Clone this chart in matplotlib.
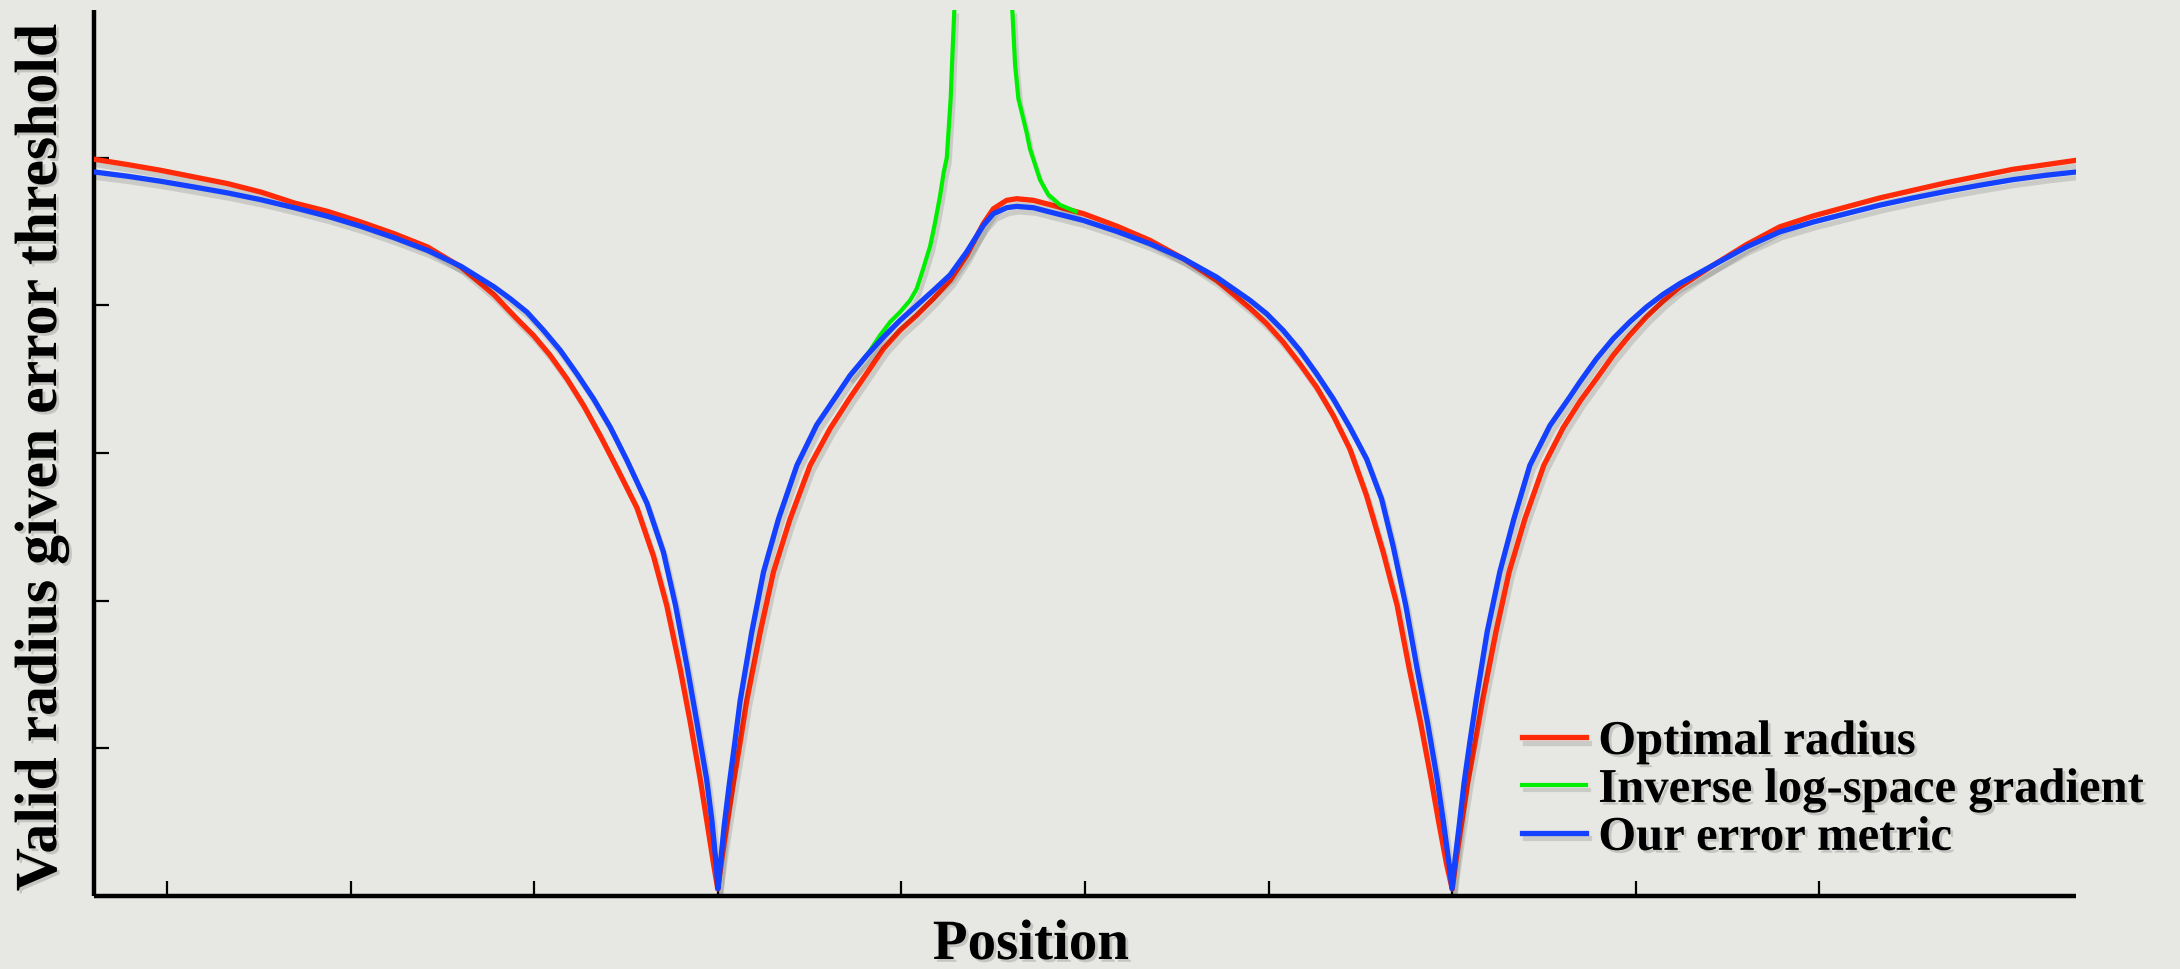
import numpy as np
import matplotlib
matplotlib.use("Agg")
import matplotlib.pyplot as plt
import matplotlib.patheffects as pe

# values (x and y in tick units)
red_x = [-0.398, -0.216, -0.035, 0.147, 0.329, 0.510, 0.692, 0.873, 1.055, 1.236, 1.418, 1.600,
         1.781, 1.904, 1.995, 2.086, 2.177, 2.268, 2.358, 2.449, 2.558, 2.649, 2.721, 2.794,
         2.849, 2.903, 2.939, 2.976, 2.999, 3.021, 3.048, 3.085, 3.121, 3.157, 3.230, 3.302,
         3.393, 3.502, 3.611, 3.720, 3.811, 3.902, 3.992, 4.083, 4.174, 4.265, 4.355, 4.446,
         4.501, 4.573, 4.628, 4.719, 4.809, 4.991, 5.172, 5.354, 5.536, 5.717, 5.899, 5.990,
         6.080, 6.171, 6.262, 6.353, 6.443, 6.534, 6.625, 6.701, 6.767, 6.828, 6.886, 6.926,
         6.970, 7.001, 7.023, 7.050, 7.086, 7.126, 7.166, 7.239, 7.311, 7.397, 7.500, 7.605,
         7.700, 7.787, 7.878, 7.968, 8.059, 8.150, 8.241, 8.422, 8.604, 8.785, 8.967, 9.148,
         9.330, 9.512, 9.693, 9.875, 10.056, 10.238, 10.400]
red_y = [4.989, 4.953, 4.914, 4.869, 4.824, 4.767, 4.693, 4.636, 4.564, 4.485, 4.395, 4.259,
         4.070, 3.909, 3.796, 3.661, 3.503, 3.322, 3.119, 2.900, 2.630, 2.300, 1.967, 1.538,
         1.177, 0.793, 0.510, 0.217, 0.047, 0.251, 0.477, 0.770, 1.041, 1.323, 1.786, 2.193,
         2.554, 2.916, 3.165, 3.375, 3.540, 3.706, 3.830, 3.932, 4.045, 4.169, 4.338, 4.553,
         4.654, 4.711, 4.722, 4.711, 4.682, 4.621, 4.537, 4.440, 4.316, 4.169, 3.980, 3.875,
         3.751, 3.604, 3.446, 3.254, 3.028, 2.712, 2.328, 1.967, 1.538, 1.177, 0.793, 0.510,
         0.217, 0.047, 0.251, 0.477, 0.770, 1.041, 1.323, 1.786, 2.193, 2.554, 2.916, 3.170,
         3.355, 3.503, 3.661, 3.797, 3.921, 4.029, 4.124, 4.271, 4.411, 4.531, 4.605, 4.666,
         4.727, 4.779, 4.830, 4.876, 4.921, 4.953, 4.982]

blue_x = [-0.398, -0.216, -0.035, 0.147, 0.329, 0.510, 0.692, 0.873, 1.055, 1.236, 1.418, 1.600,
          1.781, 1.868, 1.959, 2.050, 2.141, 2.231, 2.322, 2.413, 2.504, 2.613, 2.703, 2.769,
          2.834, 2.885, 2.938, 2.967, 2.990, 3.000, 3.016, 3.034, 3.063, 3.092, 3.121, 3.184,
          3.248, 3.330, 3.430, 3.538, 3.647, 3.720, 3.811, 3.902, 3.992, 4.083, 4.174, 4.265,
          4.355, 4.446, 4.501, 4.573, 4.628, 4.719, 4.809, 4.991, 5.172, 5.354, 5.536, 5.717,
          5.899, 5.990, 6.080, 6.171, 6.262, 6.353, 6.443, 6.534, 6.616, 6.679, 6.748, 6.810,
          6.866, 6.919, 6.952, 6.984, 7.000, 7.017, 7.039, 7.066, 7.097, 7.131, 7.191, 7.260,
          7.337, 7.424, 7.533, 7.642, 7.696, 7.787, 7.878, 7.968, 8.059, 8.150, 8.241, 8.422,
          8.604, 8.785, 8.967, 9.148, 9.330, 9.512, 9.693, 9.875, 10.056, 10.238, 10.400]
blue_y = [4.903, 4.874, 4.840, 4.801, 4.761, 4.715, 4.661, 4.603, 4.535, 4.458, 4.372, 4.264,
          4.124, 4.045, 3.954, 3.830, 3.695, 3.537, 3.367, 3.175, 2.950, 2.660, 2.328, 1.967,
          1.538, 1.177, 0.793, 0.510, 0.217, 0.050, 0.251, 0.477, 0.770, 1.041, 1.323, 1.786,
          2.193, 2.554, 2.916, 3.190, 3.390, 3.525, 3.661, 3.785, 3.898, 3.999, 4.101, 4.206,
          4.361, 4.541, 4.621, 4.661, 4.670, 4.661, 4.632, 4.575, 4.501, 4.417, 4.316, 4.191,
          4.034, 3.943, 3.830, 3.695, 3.537, 3.367, 3.175, 2.961, 2.690, 2.370, 1.967, 1.538,
          1.177, 0.793, 0.510, 0.217, 0.050, 0.251, 0.477, 0.770, 1.041, 1.323, 1.786, 2.193,
          2.554, 2.916, 3.185, 3.380, 3.480, 3.638, 3.774, 3.887, 3.988, 4.074, 4.147, 4.271,
          4.395, 4.497, 4.564, 4.621, 4.678, 4.727, 4.772, 4.813, 4.851, 4.881, 4.903]

green_left_x = [3.720, 3.811, 3.883, 3.938, 3.992, 4.047, 4.083, 4.119, 4.156, 4.183, 4.210,
                4.230, 4.247, 4.268, 4.279, 4.288]
green_left_y = [3.525, 3.661, 3.796, 3.887, 3.954, 4.034, 4.112, 4.250, 4.400, 4.560, 4.740,
                4.900, 5.000, 5.400, 5.740, 6.000]
green_right_x = [4.604, 4.619, 4.637, 4.682, 4.700, 4.755, 4.800, 4.864, 4.950]
green_right_y = [6.000, 5.630, 5.400, 5.170, 5.060, 4.850, 4.750, 4.680, 4.635]

xticks = list(range(10))
yticks = [1, 2, 3, 4, 5]

bg = "#e7e7e3"
serif = "Liberation Serif"
shadow = [pe.SimpleLineShadow(offset=(2, -4), shadow_color="k", alpha=0.12), pe.Normal()]
tshadow = [pe.withSimplePatchShadow(offset=(2, -2), shadow_rgbFace="k", alpha=0.15)]

fig = plt.figure(figsize=(21.8, 9.7), dpi=100, facecolor=bg)
ax = fig.add_axes([94 / 2180, 73 / 970, (2076 - 94) / 2180, (897 - 11) / 970])
ax.set_facecolor(bg)

ax.plot(red_x, red_y, color="#ff2a08", lw=3.8, label="Optimal radius",
        path_effects=shadow, zorder=3, solid_joinstyle="round")
ax.plot(green_left_x, green_left_y, color="#00ee00", lw=3.0, label="Inverse log-space gradient",
        path_effects=shadow, zorder=4, solid_joinstyle="round")
ax.plot(green_right_x, green_right_y, color="#00ee00", lw=3.0,
        path_effects=shadow, zorder=4, solid_joinstyle="round")
ax.plot(blue_x, blue_y, color="#1440ff", lw=3.8, label="Our error metric",
        path_effects=shadow, zorder=5, solid_joinstyle="round")

ax.set_xlim(-0.4, 10.4)
ax.set_ylim(0, 6)
ax.set_xticks(xticks)
ax.set_yticks(yticks)
ax.set_xticklabels([])
ax.set_yticklabels([])
ax.tick_params(direction="in", length=11, width=1.6, color="k")
for s in ["top", "right"]:
    ax.spines[s].set_visible(False)
for s in ["left", "bottom"]:
    ax.spines[s].set_linewidth(3.2)
    ax.spines[s].set_capstyle("butt")

fig.text(1031 / 2180, 10 / 970, "Position", ha="center", va="baseline",
         family=serif, weight="bold", fontsize=41, path_effects=tshadow)
fig.text(42 / 2180, 0.5268, "Valid radius given error threshold", rotation=90,
         ha="center", va="center", family=serif, weight="bold", fontsize=43,
         path_effects=tshadow)

leg = ax.legend(loc="upper left", bbox_to_anchor=(1522 / 2180, (970 - 721) / 970),
                bbox_transform=fig.transFigure, frameon=False,
                prop=dict(family=serif, weight="bold", size=35),
                handlelength=1.32, handletextpad=0.25, labelspacing=0.08,
                borderpad=0, borderaxespad=0)
for t in leg.get_texts():
    t.set_path_effects(tshadow)

fig.savefig("out.png", dpi=100, facecolor=bg)
